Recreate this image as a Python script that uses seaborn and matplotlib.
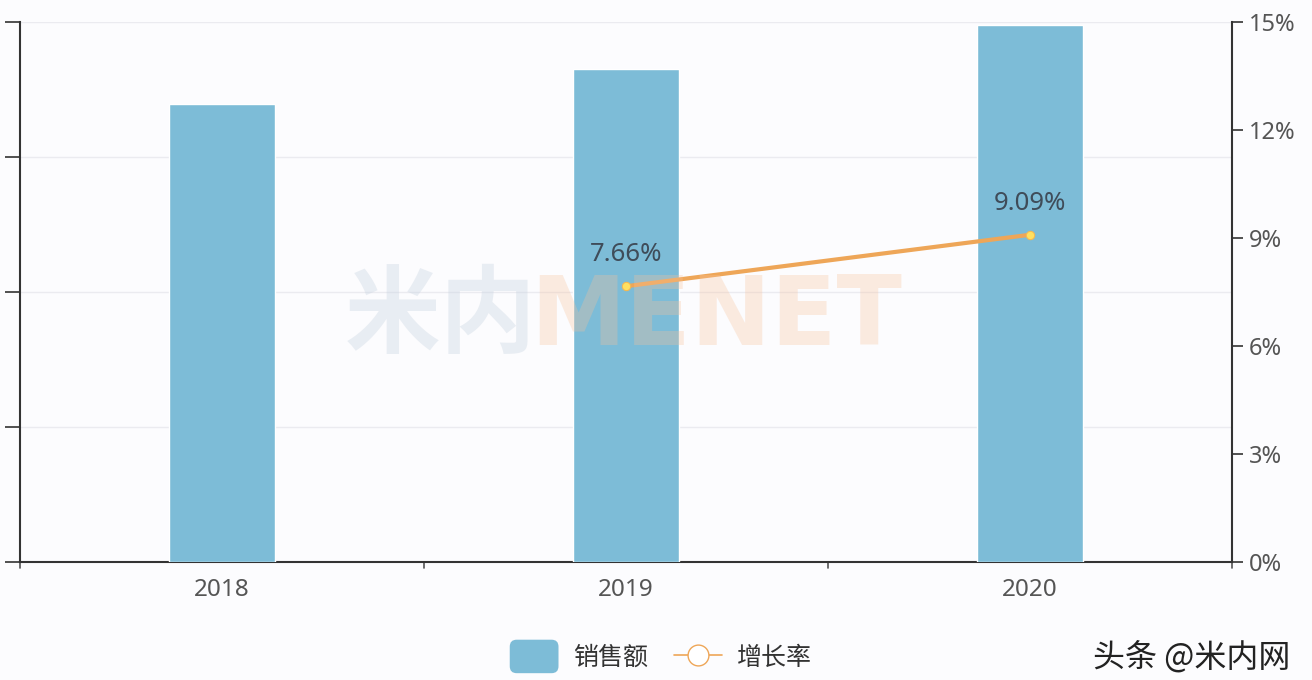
import numpy as np
import pandas as pd
import matplotlib
matplotlib.use("Agg")
import matplotlib.pyplot as plt
import seaborn as sns
from matplotlib.patches import FancyBboxPatch
from matplotlib.lines import Line2D
from matplotlib.legend_handler import HandlerPatch

years = ["2018", "2019", "2020"]
sales = [3.39, 3.65, 3.98]          # left axis (labels hidden in source)
growth = [np.nan, 7.66, 9.09]       # %
growth_labels = ["", "7.66%", "9.09%"]
right_ticks = [0, 3, 6, 9, 12, 15]

sns.set_theme(style="white")
plt.rcParams['font.family'] = ['Noto Sans CJK SC', 'DejaVu Sans']

BG = "#fcfcfe"
BAR = "#7dbcd7"
LINE = "#eea658"
TXT = "#555555"
LATIN = ['Noto Sans', 'DejaVu Sans']

fig = plt.figure(figsize=(13.12, 6.8), dpi=100, facecolor=BG)
ax = fig.add_axes([20/1312, 118/680, 1212/1312, 540/680])
ax.set_facecolor(BG)

df = pd.DataFrame({"year": years, "sales": sales, "growth": growth})
sns.barplot(data=df, x="year", y="sales", color=BAR, width=0.26, ax=ax,
            saturation=1, zorder=3)
ax.set_xlim(-0.5, len(years) - 0.5)
ax.set_ylim(0, 4)
ax.set_yticks([0, 1, 2, 3, 4])
ax.set_yticklabels([])
ax.set_xlabel("")
ax.set_ylabel("")
ax.grid(axis="y", color="#ebebf0", linewidth=1, zorder=0)
ax.set_xticks([])
for b in np.arange(len(years) + 1) - 0.5:
    ax.axvline(b, ymin=-0.012, ymax=0, color="#555555", lw=1.2, clip_on=False)
for i, y in enumerate(years):
    ax.text(i, -0.03, y, ha="center", va="top", fontsize=17.5, color=TXT,
            transform=ax.get_xaxis_transform(), family=LATIN)
ax.tick_params(axis="y", left=True, length=11, width=1.2, color="#333333", direction="out")
for s in ["top", "right"]:
    ax.spines[s].set_visible(False)
ax.spines["left"].set_color("#333333")
ax.spines["left"].set_linewidth(1.5)
ax.spines["bottom"].set_color("#333333")
ax.spines["bottom"].set_linewidth(1.5)

ax2 = ax.twinx()
idx = np.arange(len(years))
mask = ~np.isnan(np.array(growth))
sns.lineplot(x=idx[mask], y=np.array(growth)[mask], ax=ax2, color=LINE, lw=3,
             marker="o", markersize=6, markerfacecolor="#ffe060",
             markeredgecolor="#f5b850", zorder=5)
ax2.set_ylim(0, 15)
ax2.set_yticks(right_ticks)
ax2.set_yticklabels([f"{t}%" for t in right_ticks], fontsize=17, color=TXT,
                    family=LATIN)
ax2.tick_params(axis="y", right=True, length=8, width=1.2, color="#333333",
                direction="out", pad=4)
for s in ["top", "left", "bottom"]:
    ax2.spines[s].set_visible(False)
ax2.spines["right"].set_color("#333333")
ax2.spines["right"].set_linewidth(1.5)
for i, (g, lab) in enumerate(zip(growth, growth_labels)):
    if lab:
        ax2.annotate(lab, (i, g), xytext=(0, 22.5), textcoords="offset points",
                     ha="center", va="center", fontsize=18.5, color="#3f4c59",
                     family=LATIN, zorder=6)

# watermark
fig.text(345/1312, (680-345)/680, "米内", fontsize=69, color="#c5d2df", alpha=0.35,
         fontweight="bold", ha="left", va="baseline")
fig.text(530/1312, (680-345)/680, "MENET", fontsize=69, color="#f8c29a", alpha=0.3,
         fontweight="bold", ha="left", va="baseline", family=['DejaVu Sans'])


class RoundPatchHandler(HandlerPatch):
    def create_artists(self, legend, orig_handle, xdescent, ydescent, width,
                       height, fontsize, trans):
        p = FancyBboxPatch((-xdescent, -ydescent - 4), width, height + 8,
                           boxstyle="round,pad=0,rounding_size=5",
                           facecolor=BAR, edgecolor="none", transform=trans)
        return [p]


bar_handle = FancyBboxPatch((0, 0), 1, 1, facecolor=BAR)
line_handle = Line2D([], [], color=LINE, lw=1.2, marker="o", markersize=15,
                     markerfacecolor="white", markeredgecolor=LINE)
leg = fig.legend([bar_handle, line_handle], ["销售额", "增长率"],
                 loc="center", bbox_to_anchor=(661/1312, 1 - 658/680), ncol=2,
                 frameon=False, fontsize=18, handlelength=1.95, handleheight=1.0,
                 columnspacing=1.0, handletextpad=0.6,
                 handler_map={FancyBboxPatch: RoundPatchHandler()})
for t in leg.get_texts():
    t.set_color("#333333")

fig.text(1290/1312, 1 - 657/680, "头条 @米内网", fontsize=23, color="#222222",
         ha="right", va="center")

fig.savefig("out.png", dpi=100, facecolor=BG)
